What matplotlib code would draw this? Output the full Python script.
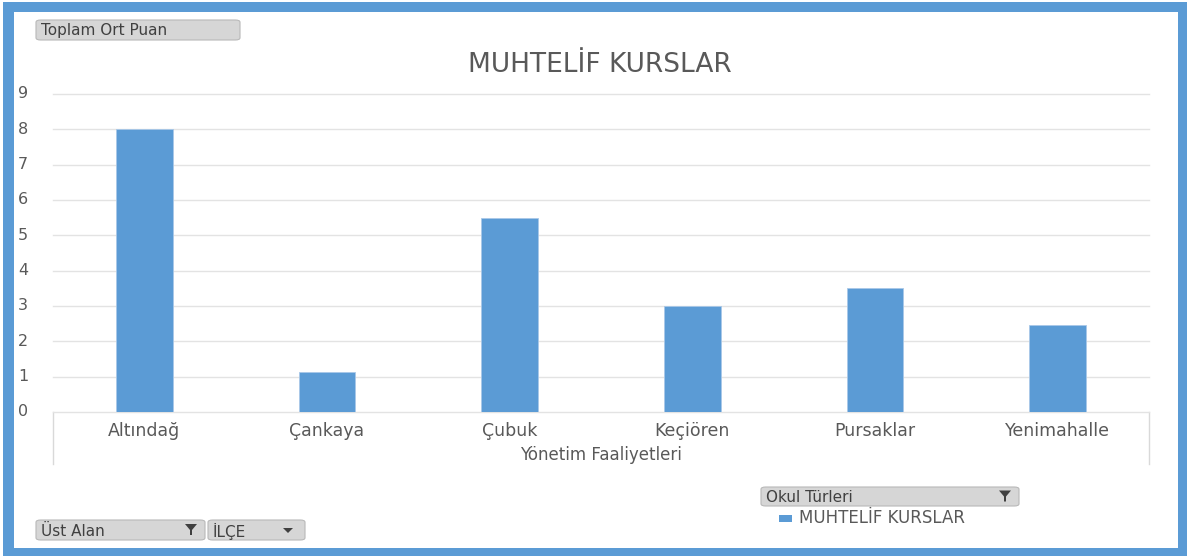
import matplotlib.pyplot as plt
from matplotlib.patches import Rectangle, FancyBboxPatch, Polygon
from matplotlib.lines import Line2D

# data
districts = ['Altındağ', 'Çankaya', 'Çubuk', 'Keçiören', 'Pursaklar', 'Yenimahalle']
scores = [8.0, 1.13, 5.5, 3.0, 3.5, 2.46]
yticks = list(range(0, 10))
series_name = 'MUHTELİF KURSLAR'

W, H = 1192, 559
blue = '#5b9bd5'
txt = '#595959'

plt.rcParams['font.family'] = ['DejaVu Sans']

fig = plt.figure(figsize=(W / 100, H / 100), dpi=100)
fig.patch.set_facecolor('white')


def fx(x):
    return x / W


def fy(y):
    return 1 - y / H


def prect(x0, y0, x1, y1, **kw):
    return Rectangle((fx(x0), fy(y1)), fx(x1) - fx(x0), fy(y0) - fy(y1),
                     transform=fig.transFigure, **kw)


# blue frame
fig.patches.append(prect(3, 2, 1187, 556, facecolor=blue, edgecolor='none', zorder=0))
fig.patches.append(prect(14, 12, 1178, 548, facecolor='white', edgecolor='none', zorder=1))

# plot area
left, right, top, bottom = 53, 1149, 94, 412
ax = fig.add_axes([fx(left), fy(bottom), fx(right) - fx(left), fy(top) - fy(bottom)])
ax.set_zorder(5)
ax.set_facecolor('none')
x = range(len(districts))
ax.bar(x, scores, width=0.31, color=blue, edgecolor='#a9c8e8', linewidth=0.6, zorder=3)
ax.set_xlim(-0.5, len(districts) - 0.5)
ax.set_ylim(0, 9)
ax.set_yticks(yticks)
for t in yticks:
    ax.axhline(t, color='#e3e3e3', linewidth=1.0, zorder=1, clip_on=False)
for s in ax.spines.values():
    s.set_visible(False)
ax.tick_params(left=False, bottom=False, labelleft=False, labelbottom=False)

# y tick labels placed near the frame
for t in yticks:
    fig.text(fx(23), fy(bottom - t * (bottom - top) / 9), str(t), ha='center', va='center',
             fontsize=11.5, color=txt)

# category labels
cw = (right - left) / len(districts)
for i, d in enumerate(districts):
    fig.text(fx(left + cw * (i + 0.5)), fy(431), d, ha='center', va='center',
             fontsize=12.5, color=txt)

# category band lines
for xx in (left, right):
    fig.lines.append(Line2D([fx(xx), fx(xx)], [fy(412), fy(464)], transform=fig.transFigure,
                            color='#d9d9d9', linewidth=1.0))

fig.text(fx(601), fy(455), 'Yönetim Faaliyetleri', ha='center', va='center',
         fontsize=12, color=txt)

# title
fig.text(fx(600), fy(65), series_name, ha='center', va='center', fontsize=19, color=txt)


# pivot field buttons
def button(x0, y0, x1, y1, label, icon=None):
    fig.patches.append(FancyBboxPatch((fx(x0), fy(y1)), fx(x1) - fx(x0), fy(y0) - fy(y1),
                                      boxstyle='round,pad=0,rounding_size=0.004',
                                      transform=fig.transFigure, facecolor='#d6d6d6',
                                      edgecolor='#b8b8b8', linewidth=0.8, zorder=2))
    fig.text(fx(x0 + 5), fy((y0 + y1) / 2 + 1), label, ha='left', va='center',
             fontsize=11, color='#404040', zorder=3)
    if icon == 'filter':
        cx, cy = x1 - 14, (y0 + y1) / 2
        fig.patches.append(Polygon([(fx(cx - 6), fy(cy - 6)), (fx(cx + 6), fy(cy - 6)),
                                    (fx(cx + 1), fy(cy)), (fx(cx + 1), fy(cy + 5)),
                                    (fx(cx - 1), fy(cy + 5)), (fx(cx - 1), fy(cy))],
                                   closed=True, transform=fig.transFigure,
                                   facecolor='#404040', edgecolor='none', zorder=3))
        fig.lines.append(Line2D([fx(cx - 12), fx(cx - 7)], [fy(cy + 4), fy(cy + 4)],
                                transform=fig.transFigure, color='#404040', linewidth=1.2))
    elif icon == 'drop':
        cx, cy = x1 - 17, (y0 + y1) / 2
        fig.patches.append(Polygon([(fx(cx - 5), fy(cy - 2)), (fx(cx + 5), fy(cy - 2)),
                                    (fx(cx), fy(cy + 3))], closed=True,
                                   transform=fig.transFigure, facecolor='#404040',
                                   edgecolor='none', zorder=3))


button(36, 20, 240, 40, 'Toplam Ort Puan')
button(36, 520, 205, 540, 'Üst Alan', icon='filter')
button(208, 520, 305, 540, 'İLÇE', icon='drop')
button(761, 487, 1019, 506, 'Okul Türleri', icon='filter')

# legend
fig.patches.append(prect(779, 515, 792, 522, facecolor=blue, edgecolor='none', zorder=2))
fig.text(fx(799), fy(518), series_name, ha='left', va='center', fontsize=12, color=txt)

fig.savefig('out.png', dpi=100)
